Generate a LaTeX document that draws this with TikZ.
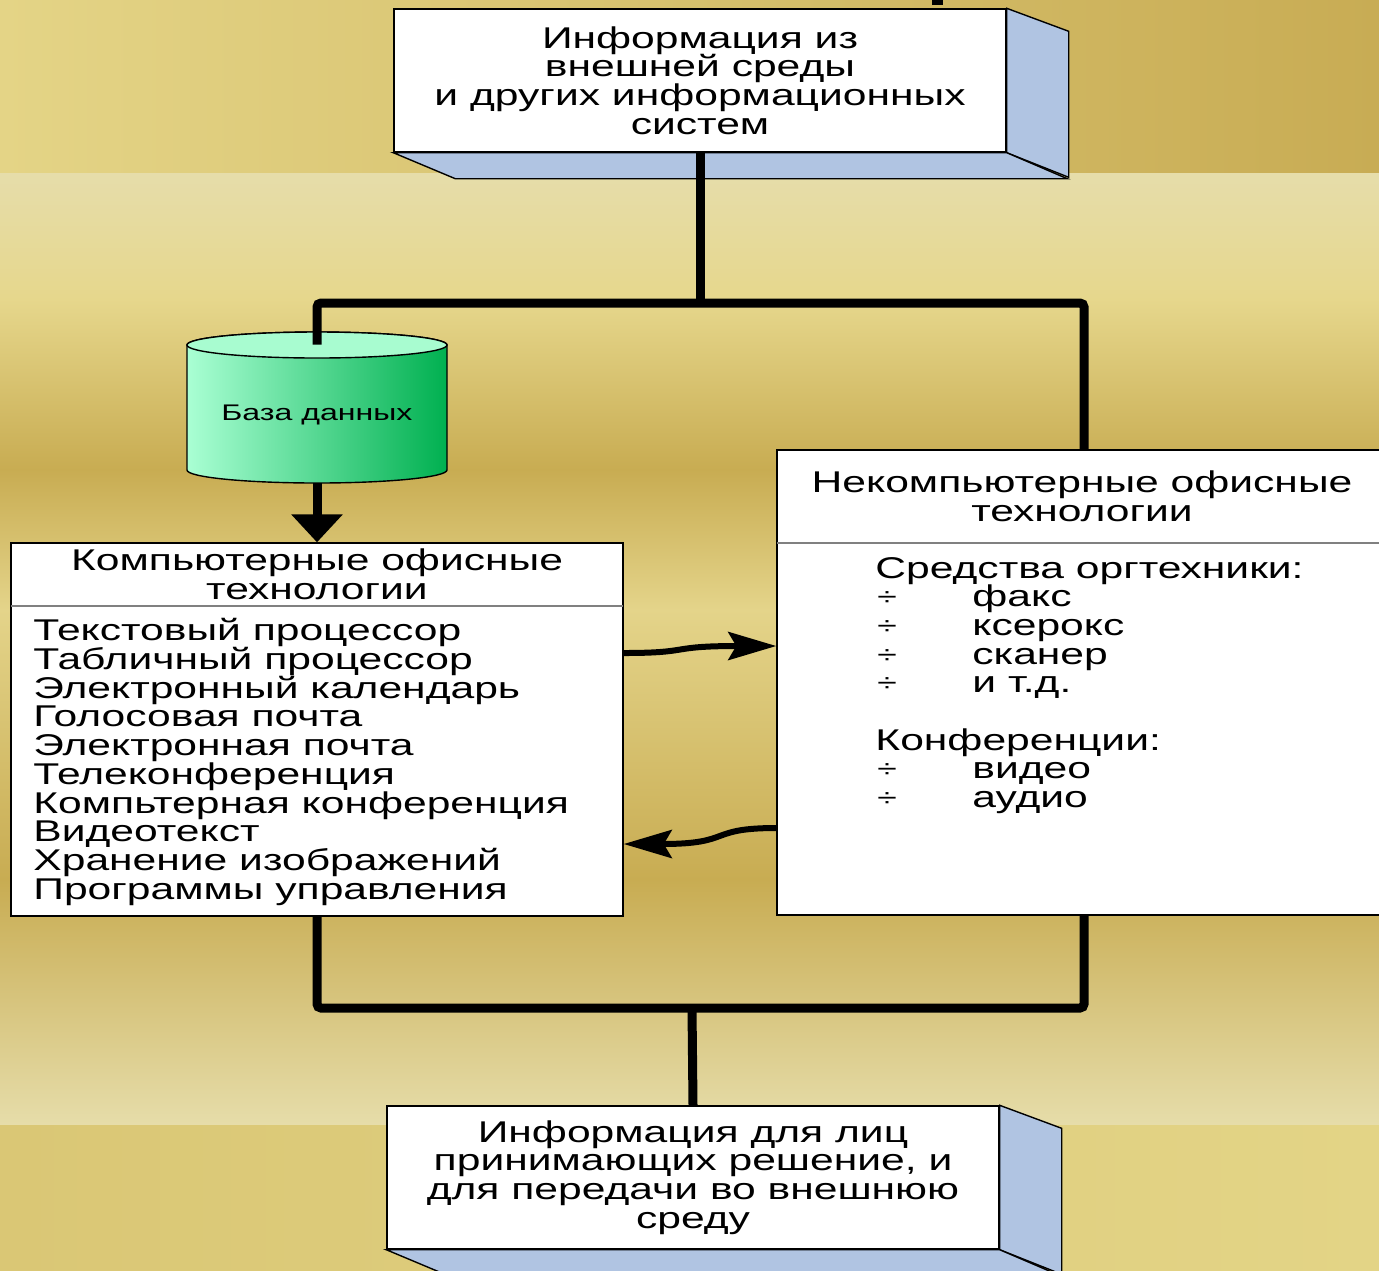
\documentclass[tikz,border=0pt]{standalone}
\usepackage{fontspec}
\setmainfont[FakeStretch=1.42]{Liberation Sans}
\usetikzlibrary{arrows.meta}
\usetikzlibrary{calc}

\definecolor{bandL}{HTML}{E4D486}
\definecolor{bandR}{HTML}{C8AC54}
\definecolor{midA}{HTML}{E6DDAA}
\definecolor{midB}{HTML}{E6D78C}
\definecolor{midC}{HTML}{C8AC52}
\definecolor{midD}{HTML}{E4D48A}
\definecolor{lowL}{HTML}{DAC775}
\definecolor{lowR}{HTML}{E3D486}
\definecolor{sideblue}{HTML}{B0C4E2}
\definecolor{dbL}{HTML}{AAFFD4}
\definecolor{dbR}{HTML}{00B050}
\definecolor{dbtop}{HTML}{A8FCD0}

\tikzset{
  wire/.style={line width=4.5pt, rounded corners=2pt},
  flow/.style={line width=3pt, -{Stealth[length=24pt,width=14pt,inset=4pt]}},
  plate/.style={draw=black, line width=0.7pt, fill=white, inner sep=0pt},
  side/.style={draw=black, line width=0.7pt, fill=sideblue},
  sepline/.style={draw=gray, line width=1pt},
  txt/.style={font=\fontsize{15}{14.35}\selectfont, align=center, inner sep=0pt},
}
\newcommand{\divitem}[1]{\makebox[48.5pt][l]{\hspace{1pt}\raisebox{0.5pt}{\fontsize{12.5}{12}\selectfont ÷}}#1}

\begin{document}
\begin{tikzpicture}[x=0.5pt,y=0.5pt,yscale=-1,xscale=1]
\useasboundingbox (0,0) rectangle (1379,1270);

%Background bands
\shade[left color=bandL, right color=bandR] (0,0) rectangle (1379,174);
\shade[top color=midA, bottom color=midB] (0,173) rectangle (1379,300);
\shade[top color=midB, bottom color=midC] (0,299) rectangle (1379,470);
\shade[top color=midC, bottom color=midD] (0,469) rectangle (1379,610);
\shade[top color=midD, bottom color=midC] (0,609) rectangle (1379,880);
\shade[top color=midC, bottom color=midA] (0,879) rectangle (1379,1126);
\shade[left color=lowL, right color=lowR] (0,1125) rectangle (1379,1270);
\fill (932,0) rectangle (943,5);

%Box: outer information
\node[plate, txt, minimum width=306pt, minimum height=71.5pt] (topbox) at (700,80.5) {Информация из\\внешней среды\\и других информационных\\систем};
\draw[side] (topbox.north east) -- ++(62,23) -- ++(0,146) -- (topbox.south east) -- cycle;
\draw[side] (topbox.south west) -- ++(62,26) -- ++(612,0) -- (topbox.south east) -- cycle;

%Box: information for decision makers
\node[plate, txt, minimum width=306pt, minimum height=71.5pt] (botbox) at (693,1177.5) {Информация для лиц\\принимающих решение, и\\для передачи во внешнюю\\среду};
\draw[side] (botbox.north east) -- ++(62,23) -- ++(0,146) -- (botbox.south east) -- cycle;
\draw[side] (botbox.south west) -- ++(62,26) -- ++(612,0) -- (botbox.south east) -- cycle;

%Box: computer technologies
\node[plate, minimum width=306pt, minimum height=186.5pt] (lbox) at (317,729.5) {};
\draw[sepline] (11,606) -- (623,606);
\node[txt] (lhead) at (317,574) {Компьютерные офисные\\технологии};
\node[txt, align=left, anchor=west] (llist) at (33,762) {Текстовый процессор\\Табличный процессор\\Электронный календарь\\Голосовая почта\\Электронная почта\\Телеконференция\\Компьтерная конференция\\Видеотекст\\Хранение изображений\\Программы управления};

%Box: non-computer technologies
\node[plate, minimum width=307pt, minimum height=232.5pt] (rbox) at (1084,682.5) {};
\draw[sepline] (777,543) -- (1391,543);
\node[txt] (rhead) at (1082,496.5) {Некомпьютерные офисные\\технологии};
\node[txt, align=left, anchor=west] (rlist) at (875,685.5) {Средства оргтехники:\\\divitem{факс}\\\divitem{ксерокс}\\\divitem{сканер}\\\divitem{и т.д.}\\[14.35pt]Конференции:\\\divitem{видео}\\\divitem{аудио}};

%Shape: database cylinder
\shade[left color=dbL, right color=dbR, draw=black, line width=0.7pt] (187,345) -- (187,470) arc[start angle=180, end angle=0, x radius=130, y radius=13] -- (447,345) arc[start angle=360, end angle=180, x radius=130, y radius=13] -- cycle;
\draw[fill=dbtop, line width=0.7pt] (317,345) ellipse[x radius=130, y radius=13];
\node[minimum width=130pt, minimum height=62.5pt, inner sep=0pt] (db) at (317,407.5) {};
\node[font=\fontsize{11.3}{12}\selectfont, inner sep=0pt] (dblabel) at (317,415) {База данных};

%Connectors
\coordinate (jtop) at (700,303);
\coordinate (jbot) at (692,1008);
\draw[wire] (topbox.south) -- (jtop);
\draw[wire] (db.north) |- (jtop) -| (rbox.north);
\draw[wire, -{Triangle[length=14pt,width=25pt]}] ($(db.south)+(0,13)$) -- (lbox.north);
\draw[wire] (lbox.south) |- (jbot) -| (rbox.south);
\draw[wire] (jbot) -- (botbox.north);
\draw[flow] ($(lbox.east)+(0,-76.5)$) .. controls +(70,0) and +(-110,0) .. ($(rbox.west)+(0,-36.5)$);
\draw[flow] ($(rbox.west)+(0,145.5)$) .. controls +(-70,0) and +(110,0) .. ($(lbox.east)+(0,114.5)$);

\end{tikzpicture}
\end{document}
